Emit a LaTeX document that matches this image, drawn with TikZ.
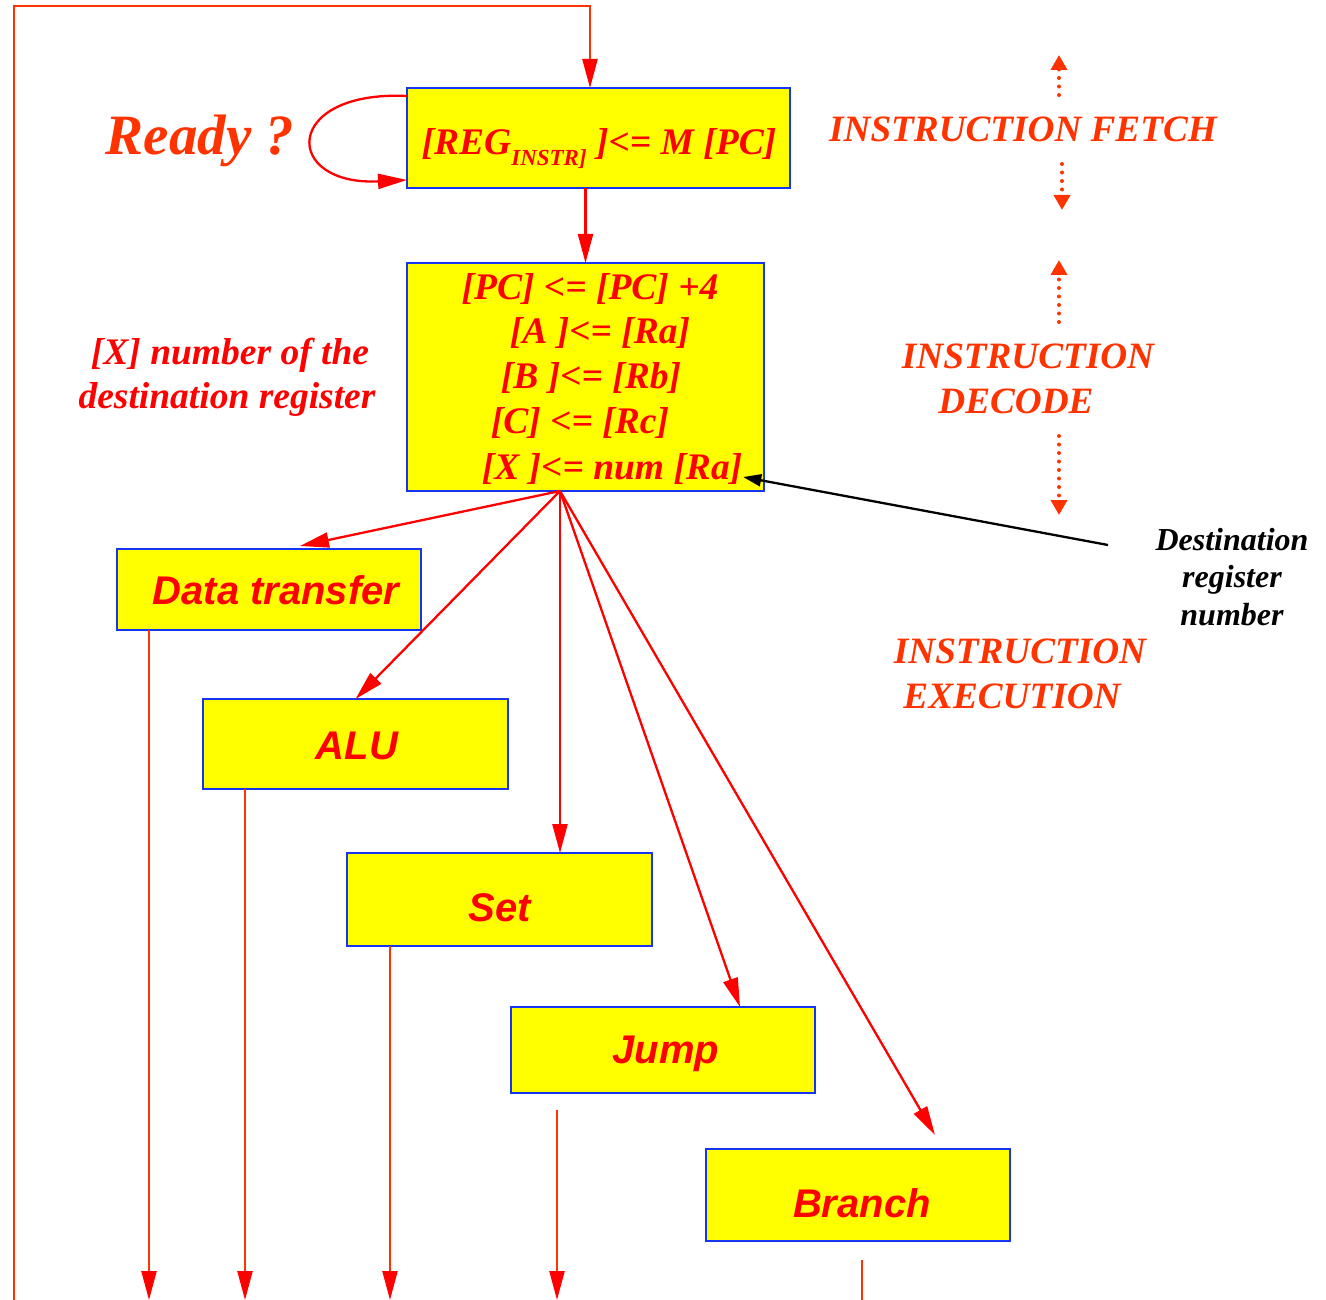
\documentclass[tikz,border=0pt]{standalone}
\usepackage{fontspec}
\setmainfont{Liberation Serif}
\setsansfont{Liberation Sans}
\usetikzlibrary{arrows.meta,calc}
\definecolor{flame}{HTML}{FF3300}
\definecolor{pured}{HTML}{FF0000}
\definecolor{boxblue}{HTML}{1535F0}
\definecolor{boxyellow}{HTML}{FFFF00}
\begin{document}
\begin{tikzpicture}[x=1pt,y=-1pt,
  every node/.style={inner sep=0pt,outer sep=0pt},
  box/.style={draw=boxblue,fill=boxyellow,line width=2.5pt},
  serifbi/.style={font=\fontsize{#1}{#1}\selectfont\bfseries\itshape},
  boxtext/.style={serifbi=37.5,text=pured,anchor=base},
  stagetext/.style={serifbi=37.2,text=flame,anchor=base},
  optext/.style={font=\fontsize{40}{40}\selectfont\sffamily\bfseries\itshape,text=pured,anchor=base},
  notetext/.style={serifbi=37.5,text=pured,anchor=base},
  blacktext/.style={serifbi=32,text=black,anchor=base},
  tip/.style={-{Triangle[length=29pt,width=15pt]}},
  fanarrow/.style={draw=pured,line width=2.3pt,tip},
  outarrow/.style={draw=flame,line width=2.3pt,-{Triangle[length=29pt,width=15pt,color=pured]}},
  outline/.style={draw=flame,line width=2.3pt},
  dotarrow/.style={draw=flame,line width=4pt,dash pattern=on 0pt off 8.5pt,line cap=round,
    -{Triangle[length=15pt,width=16pt,color=flame]}}
]
\useasboundingbox (0,0) rectangle (1326,1300);

% fetch box and its self loop
\node[box,minimum width=383pt,minimum height=100pt] (b1) at (598.5,138) {};
\node[boxtext] (t1) at (599,155) {[REG\raisebox{-0.28em}{\fontsize{23}{23}\selectfont INSTR]} ]<= M [PC]};
\node[serifbi=57,text=flame,anchor=base] (ready) at (200,155) {Ready ?};
\draw[draw=pured,line width=2.3pt,tip] ([yshift=-8pt]b1.north west)
  .. controls +(-125,-6) and +(-125,6) .. ([yshift=8pt]b1.south west);

% decode box
\node[box,minimum width=357pt,minimum height=228pt] (b2) at (585.5,377) {};
\node[boxtext] (l1) at (590,299) {[PC] <= [PC] +4};
\node[boxtext] (l2) at (600,343) {[A ]<= [Ra]};
\node[boxtext] (l3) at (591,388) {[B ]<= [Rb]};
\node[boxtext] (l4) at (580,433) {[C] <= [Rc]};
\node[boxtext] (l5) at (612,479) {[X ]<= num [Ra]};
\draw[fanarrow] (b1.south -| b2.north) -- (b2.north);

\node[notetext] (n1) at (230,364) {[X] number of the};
\node[notetext] (n2) at (227,408) {destination register};

% execution boxes
\node[box,minimum width=304pt,minimum height=81pt] (dt) at (269,589.5) {};
\node[optext] (dtl) at (276,604) {Data transfer};
\node[box,minimum width=305pt,minimum height=90pt] (alu) at (355.5,744) {};
\node[optext] (alul) at (357,759) {ALU};
\node[box,minimum width=305pt,minimum height=93pt] (set) at (499.5,899.5) {};
\node[optext] (setl) at (500,921) {Set};
\node[box,minimum width=304pt,minimum height=86pt] (jump) at (663,1050) {};
\node[optext] (jumpl) at (666,1063) {Jump};
\node[box,minimum width=304pt,minimum height=92pt] (br) at (858,1195) {};
\node[optext] (brl) at (862,1217) {Branch};

% fan-out from the decode box
\coordinate (fan) at ([xshift=-25.5pt]b2.south);
\draw[fanarrow] (fan) -- ($(dt.north)+(31,-3)$);
\draw[fanarrow] (fan) -- (alu.north);
\draw[fanarrow] (fan) -- ([xshift=60.5pt]set.north);
\draw[fanarrow] (fan) -- ([xshift=77pt]jump.north);
\draw[fanarrow] (fan) -- ($(br.north)+(77,-14)$);

% exits towards the next instruction
\coordinate (bot) at (0,1300);
\draw[outarrow] ([xshift=-120pt]dt.south) -- ([xshift=-120pt]dt.south |- bot);
\draw[outarrow] ([xshift=-110.5pt]alu.south) -- ([xshift=-110.5pt]alu.south |- bot);
\draw[outarrow] ([xshift=-109.5pt]set.south) -- ([xshift=-109.5pt]set.south |- bot);
\draw[outarrow] ($(jump.south)+(-106,17)$) -- ([xshift=-106pt]jump.south |- bot);
\draw[outline] ($(br.south)+(4,19)$) -- ([xshift=4pt]br.south |- bot);

% feedback to the fetch box
\coordinate (fb) at (14,1300);
\coordinate (top) at (590,6);
\draw[outline,-{Triangle[length=29pt,width=15pt,color=pured]}] (fb) |- (top) -- ([xshift=-8.5pt]b1.north);

% stage labels
\node[stagetext] (sf) at (1023,142) {INSTRUCTION FETCH};
\node[stagetext] (sd1) at (1028,368) {INSTRUCTION};
\node[stagetext] (sd2) at (1016,413) {DECODE};
\node[stagetext] (se1) at (1020,663) {INSTRUCTION};
\node[stagetext] (se2) at (1012,708) {EXECUTION};
\draw[dotarrow] (1059,95) -- (1059,55);
\draw[dotarrow] (1062,164) -- (1062,210);
\draw[dotarrow] (1059,322) -- (1059,260);
\draw[dotarrow] (1059,436) -- (1059,515);

% destination register note
\node[blacktext] (d1) at (1232,550) {Destination};
\node[blacktext] (d2) at (1232,587) {register};
\node[blacktext] (d3) at (1232,625) {number};
\coordinate (dtail) at (1108,545);
\draw[black,line width=2.3pt,-{Triangle[length=18pt,width=12pt]}] (dtail) -- ($(l5.base east)+(1,-2)$);
\end{tikzpicture}
\end{document}
